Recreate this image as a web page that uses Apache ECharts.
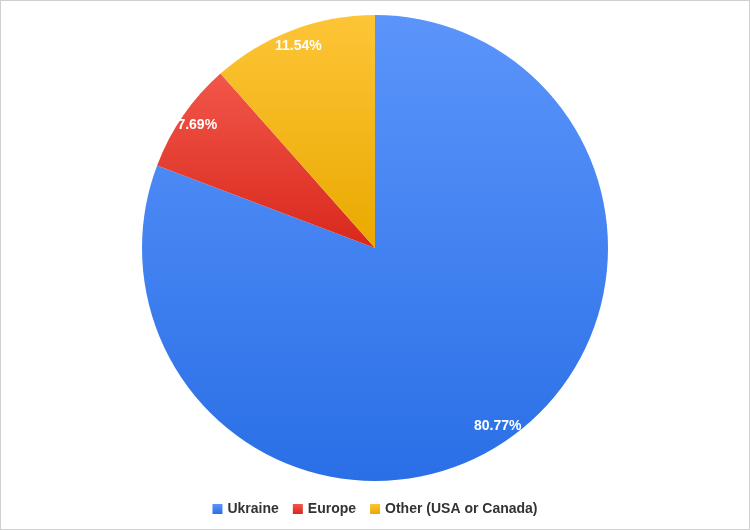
<!DOCTYPE html>
<html><head><meta charset="utf-8">
<script src="https://cdn.jsdelivr.net/npm/echarts@6/dist/echarts.min.js"></script>
<style>html,body{margin:0;padding:0;background:#fff}#c{width:748px;height:528px;border:1px solid #d0d0d0}</style>
</head><body><div id="c"></div>
<script>
const categories = ['Ukraine', 'Europe', 'Other (USA or Canada)'];
const values = [21, 2, 3];
const colors = [['#5b95fb', '#2a6fe6'], ['#f2564a', '#d9281c'], ['#fdc537', '#eaa900']];
const chart = echarts.init(document.getElementById('c'));
const grad = c => new echarts.graphic.LinearGradient(0, 0, 0, 1, [{offset: 0, color: c[0]}, {offset: 1, color: c[1]}]);
const data = categories.map((n, i) => ({name: n, value: values[i], itemStyle: {color: grad(colors[i])}}));
const total = values.reduce((a, b) => a + b, 0);
chart.setOption({
  animation: false,
  legend: {bottom: 8, itemWidth: 10, itemHeight: 10, itemGap: 14, icon: 'rect',
    textStyle: {fontFamily: 'Liberation Sans, Arial', fontSize: 14, fontWeight: 'bold', color: '#333'},
    data: categories},
  series: [
    {type: 'pie', center: [374, 247], radius: [0, 233], startAngle: 90, clockwise: true,
     label: {show: false}, labelLine: {show: false}, data: data, emphasis: {disabled: true}},
    {type: 'pie', center: [374, 247], radius: [180, 246], startAngle: 90, clockwise: true, silent: true,
     itemStyle: {color: 'rgba(0,0,0,0)'},
     label: {show: true, position: 'inside', color: '#fff', fontWeight: 'bold', fontSize: 14,
       fontFamily: 'Liberation Sans, Arial',
       formatter: p => (p.value / total * 100).toFixed(2) + '%'},
     data: categories.map((n, i) => ({name: n + ' ', value: values[i]}))}
  ]
});
</script></body></html>
